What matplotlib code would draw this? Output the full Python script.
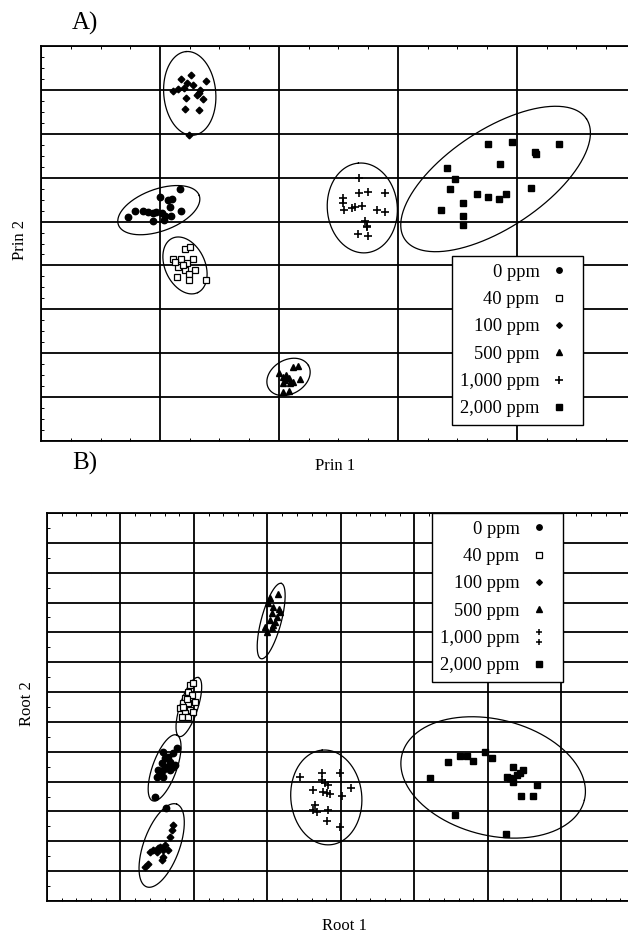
import numpy as np
import matplotlib
matplotlib.use("Agg")
import matplotlib.pyplot as plt
from matplotlib.ticker import MultipleLocator
from matplotlib.path import Path
from matplotlib.lines import Line2D

plt.rcParams['font.family'] = ['Liberation Serif', 'DejaVu Serif']

labels = ["0 ppm", "40 ppm", "100 ppm", "500 ppm", "1,000 ppm", "2,000 ppm"]

# ---------------- Panel A (Prin 1 / Prin 2) ----------------
a0_x = [0.73, 0.79, 0.86, 0.90, 0.94, 0.97, 1.00, 1.02, 1.04, 1.07, 1.10, 1.08, 1.09, 1.17, 1.18, 0.94, 1.03]
a0_y = [5.10, 5.24, 5.24, 5.22, 5.19, 5.22, 5.56, 5.19, 5.13, 5.49, 5.51, 5.33, 5.13, 5.74, 5.24, 5.01, 5.03]
a40_x = [1.21, 1.25, 1.11, 1.18, 1.28, 1.15, 1.23, 1.21, 1.29, 1.14, 1.24, 1.24, 1.39, 1.13, 1.19]
a40_y = [4.37, 4.42, 4.15, 4.15, 4.15, 3.96, 4.05, 3.90, 3.90, 3.74, 3.80, 3.67, 3.67, 4.08, 4.01]
a100_x = [1.11, 1.15, 1.18, 1.20, 1.26, 1.28, 1.22, 1.31, 1.33, 1.36, 1.39, 1.33, 1.21, 1.24, 1.23, 1.34]
a100_y = [7.97, 8.02, 8.25, 8.04, 8.34, 8.11, 7.81, 7.88, 7.93, 7.79, 8.20, 7.54, 7.56, 6.97, 8.15, 8.00]
a500_x = [2.00, 2.03, 2.05, 2.08, 2.03, 2.09, 2.12, 2.16, 2.18, 2.03, 2.08, 2.12, 2.06]
a500_y = [1.55, 1.46, 1.39, 1.44, 1.32, 1.32, 1.69, 1.71, 1.41, 1.12, 1.14, 1.34, 1.50]
a1000_x = [2.67, 2.67, 2.75, 2.89, 2.54, 2.54, 2.55, 2.61, 2.64, 2.70, 2.82, 2.89, 2.72, 2.74, 2.66, 2.75, 2.74]
a1000_y = [5.99, 5.65, 5.67, 5.65, 5.54, 5.42, 5.26, 5.31, 5.33, 5.35, 5.26, 5.22, 5.01, 4.87, 4.72, 4.67, 4.90]
a2000_x = [3.41, 3.48, 3.44, 3.36, 3.55, 3.55, 3.55, 3.66, 3.76, 3.76, 3.86, 3.85, 3.91, 3.96, 4.15, 4.16, 4.35, 4.12]
a2000_y = [6.22, 5.97, 5.74, 5.26, 5.42, 5.13, 4.92, 5.63, 6.77, 5.56, 6.31, 5.51, 5.63, 6.81, 6.58, 6.54, 6.77, 5.76]

# ellipse centres (data units)
a_ell_cx = [0.99, 1.21, 1.25, 2.08, 2.70, 3.82]
a_ell_cy = [5.26, 4.00, 7.92, 1.46, 5.31, 5.97]

# ---------------- Panel B (Root 1 / Root 2) ----------------
b0_x = [1.77, 1.58, 1.71, 1.61, 1.67, 1.56, 1.63, 1.71, 1.51, 1.58, 1.67, 1.54, 1.50, 1.58, 1.47, 1.74, 1.65, 1.62]
b0_y = [5.13, 4.99, 4.96, 4.79, 4.66, 4.62, 4.49, 4.49, 4.39, 4.39, 4.39, 4.29, 4.15, 4.15, 3.48, 4.56, 4.82, 3.10]
b40_x = [1.95, 1.99, 1.92, 1.97, 1.88, 2.01, 1.85, 1.92, 1.81, 1.95, 1.88, 1.84, 1.92, 1.99, 1.85, 1.90]
b40_y = [7.24, 7.30, 7.00, 6.90, 6.80, 6.67, 6.63, 6.63, 6.47, 6.40, 6.30, 6.16, 6.16, 6.33, 6.50, 6.77]
b100_x = [1.71, 1.70, 1.67, 1.61, 1.54, 1.58, 1.65, 1.44, 1.50, 1.58, 1.56, 1.40, 1.33, 1.37, 1.51]
b100_y = [2.55, 2.38, 2.14, 1.88, 1.81, 1.71, 1.71, 1.71, 1.64, 1.47, 1.37, 1.64, 1.14, 1.24, 1.78]
b500_x = [3.14, 3.03, 3.01, 3.07, 3.16, 3.06, 3.13, 3.03, 3.10, 2.97, 3.06, 2.99, 3.07, 3.17]
b500_y = [10.28, 10.15, 9.98, 9.85, 9.78, 9.65, 9.51, 9.41, 9.35, 9.18, 9.15, 9.01, 9.25, 9.68]
b1000_x = [3.44, 3.74, 3.99, 3.78, 3.82, 3.62, 3.76, 3.81, 3.85, 4.01, 4.14, 3.65, 3.62, 3.67, 3.82, 3.81, 3.99, 3.74]
b1000_y = [4.15, 4.29, 4.29, 3.95, 3.89, 3.72, 3.65, 3.62, 3.58, 3.52, 3.79, 3.22, 3.05, 2.98, 3.05, 2.68, 2.48, 4.05]
b2000_x = [5.46, 5.62, 5.71, 5.80, 5.96, 6.05, 5.21, 5.55, 6.34, 6.48, 6.26, 6.39, 6.34, 6.67, 6.45, 6.61, 6.30, 6.44, 6.24]
b2000_y = [4.66, 4.86, 4.86, 4.69, 4.99, 4.79, 4.12, 2.88, 4.49, 4.39, 4.15, 4.22, 3.99, 3.89, 3.52, 3.52, 4.12, 4.29, 2.24]

b_ell_cx = [1.60, 1.93, 1.56, 3.05, 3.80, 6.07]
b_ell_cy = [4.46, 6.50, 1.86, 9.38, 3.47, 4.14]

# ---------------- styling ----------------
W, H = 628, 935
fig = plt.figure(figsize=(W / 100, H / 100), dpi=100)

# ellipse shapes: semi-axes in pixels, rotation in degrees (display)
a_ell_shape = [(43, 21, 20), (30, 20, -65), (42, 26, 95), (23, 17, 30), (45, 35, 95), (109, 49, 33.5)]
b_ell_shape = [(35, 12, 70), (31, 9, 72), (44, 18, 70), (39, 10, 75), (47.5, 35.5, 95), (94, 58, -14)]

styles = [
    dict(marker='o', ms=4.6, mfc='black', mec='black'),
    dict(marker='s', ms=4.4, mfc='white', mec='black', mew=0.9),
    dict(marker='D', ms=3.4, mfc='black', mec='black'),
    dict(marker='^', ms=4.8, mfc='black', mec='black'),
    dict(marker='+', ms=6.0, mfc='black', mec='black', mew=1.2),
    dict(marker='s', ms=4.8, mfc='black', mec='black'),
]


def make_axes(px_left, px_top, px_bottom, xunit):
    px_right = 634
    ax = fig.add_axes([px_left / W, (H - px_bottom) / H,
                       (px_right - px_left) / W, (px_bottom - px_top) / H])
    return ax, (px_right - px_left) / xunit


def style_axes(ax, xmax, ymax, xminor, yminor):
    ax.set_xlim(0, xmax)
    ax.set_ylim(0, ymax)
    ax.xaxis.set_major_locator(MultipleLocator(1))
    ax.yaxis.set_major_locator(MultipleLocator(1))
    ax.xaxis.set_minor_locator(MultipleLocator(xminor))
    ax.yaxis.set_minor_locator(MultipleLocator(yminor))
    ax.tick_params(which='major', length=0, labelbottom=False, labelleft=False)
    ax.tick_params(which='minor', direction='in', length=2.5, width=0.7,
                   top=True, right=True, bottom=True, left=True)
    ax.grid(True, which='major', color='black', lw=1.3)
    ax.set_axisbelow(True)
    for s in ax.spines.values():
        s.set_linewidth(1.3)
        s.set_color('black')


def draw_ellipse(ax, cx, cy, a, b, ang):
    p0 = ax.transData.transform((0, 0))
    p1 = ax.transData.transform((1, 1))
    ppx, ppy = p1[0] - p0[0], p1[1] - p0[1]
    t = np.linspace(0, 2 * np.pi, 300)
    th = np.deg2rad(ang)
    u, v = a * np.cos(t), b * np.sin(t)
    dx = u * np.cos(th) - v * np.sin(th)
    dy = u * np.sin(th) + v * np.cos(th)
    ax.plot(cx + dx / ppx, cy + dy / ppy, color='black', lw=0.9, zorder=3)


def legend(ax, anchor, handles):
    leg = ax.legend(handles, labels, loc='upper left', bbox_to_anchor=anchor,
                    borderaxespad=0, markerfirst=False, frameon=True, fancybox=False,
                    framealpha=1, edgecolor='black', fontsize=13.3, labelspacing=0.56,
                    borderpad=0.42, handlelength=1.8, handletextpad=0.15,
                    numpoints=1, markerscale=0.85)
    leg.get_frame().set_linewidth(1.0)
    leg.set_zorder(10)
    return leg


# Panel A
axA, xmaxA = make_axes(41, 46, 441, 119.0)
style_axes(axA, xmaxA, 9, 0.25, 0.25)
A_sets = [(a0_x, a0_y), (a40_x, a40_y), (a100_x, a100_y), (a500_x, a500_y), (a1000_x, a1000_y), (a2000_x, a2000_y)]
hA = []
for (xs, ys), st in zip(A_sets, styles):
    ln, = axA.plot(xs, ys, ls='none', zorder=4, **st)
    hA.append(ln)
for cx, cy, (a, b, ang) in zip(a_ell_cx, a_ell_cy, a_ell_shape):
    draw_ellipse(axA, cx, cy, a, b, ang)
legend(axA, ((452 - 41) / (634 - 41), (441 - 256) / (441 - 46)), hA)

# Panel B
axB, xmaxB = make_axes(47, 513, 901, 73.5)
style_axes(axB, xmaxB, 13, 0.2, 0.5)
B_sets = [(b0_x, b0_y), (b40_x, b40_y), (b100_x, b100_y), (b500_x, b500_y), (b1000_x, b1000_y), (b2000_x, b2000_y)]
hB = []
for (xs, ys), st in zip(B_sets, styles):
    ln, = axB.plot(xs, ys, ls='none', zorder=4, **st)
    hB.append(ln)
for cx, cy, (a, b, ang) in zip(b_ell_cx, b_ell_cy, b_ell_shape):
    draw_ellipse(axB, cx, cy, a, b, ang)

# legend handle for 1,000 ppm in panel B: two stacked plus signs
verts = [(-0.7, 1.1), (0.7, 1.1), (0, 0.4), (0, 1.8),
         (-0.7, -1.1), (0.7, -1.1), (0, -1.8), (0, -0.4)]
codes = [Path.MOVETO, Path.LINETO] * 4
twoplus = Path(verts, codes)
hB_leg = list(hB)
hB_leg[4] = Line2D([], [], ls='none', marker=twoplus, ms=13.5, mec='black', mfc='none', mew=1.1)
legend(axB, ((432 - 47) / (634 - 47), 1.0), hB_leg)

# texts
fig.text(72 / W, 1 - 23 / H, 'A)', fontsize=18, ha='left', va='center')
fig.text(72 / W, 1 - 463 / H, 'B)', fontsize=18, ha='left', va='center')
fig.text(20 / W, 1 - 240 / H, 'Prin 2', fontsize=12, rotation=90, ha='center', va='center')
fig.text(335 / W, 1 - 466 / H, 'Prin 1', fontsize=12, ha='center', va='center')
fig.text(27 / W, 1 - 704 / H, 'Root 2', fontsize=12, rotation=90, ha='center', va='center')
fig.text(344 / W, 1 - 926 / H, 'Root 1', fontsize=12, ha='center', va='center')

fig.savefig('out.png', dpi=100)
